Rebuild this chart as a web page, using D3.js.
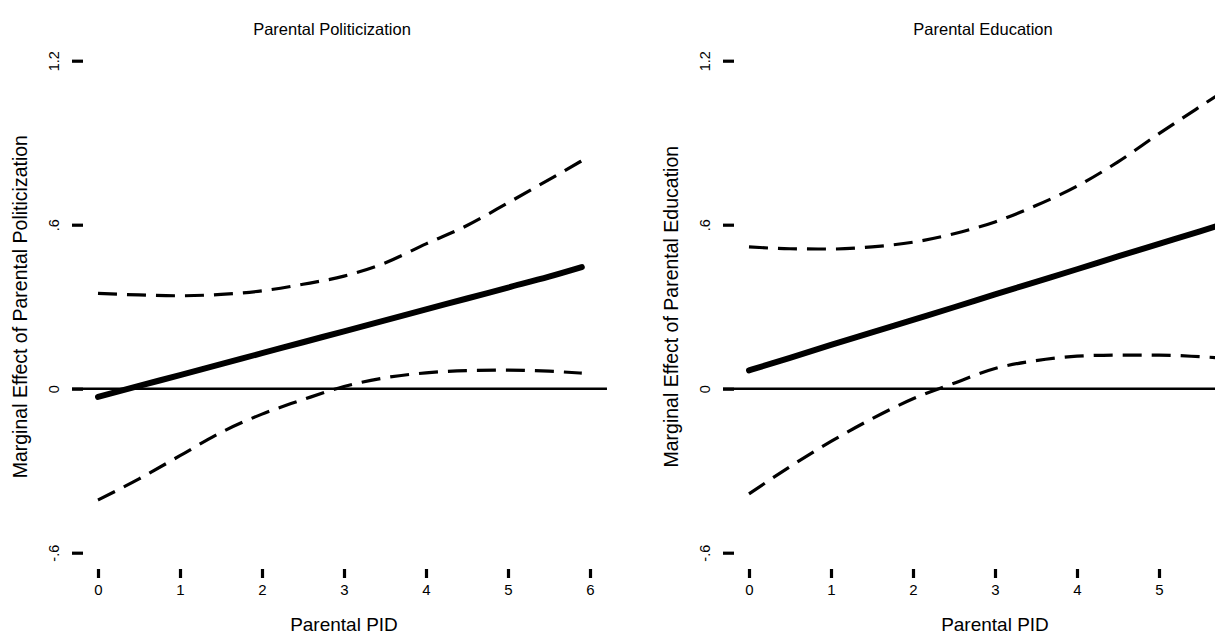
<!DOCTYPE html>
<html>
<head>
<meta charset="utf-8">
<script src="https://cdn.jsdelivr.net/npm/d3@7"></script>
<style>
  html, body { margin: 0; padding: 0; background: #fff; }
  svg { display: block; font-family: "Liberation Sans", Arial, Helvetica, sans-serif; }
</style>
</head>
<body>
<svg id="chart" width="1215" height="635"></svg>
<script>
// ---- data ----
const pid = [0, 0.5, 1, 1.5, 2, 2.5, 3, 3.5, 4, 4.5, 5, 5.5, 5.9];
const xTicks = [0, 1, 2, 3, 4, 5, 6];
const yTicks = [-0.6, 0, 0.6, 1.2];
const yTickLabels = ["-.6", "0", ".6", "1.2"];

const politEffect = [-0.03, 0.01, 0.05, 0.09, 0.13, 0.17, 0.21, 0.25, 0.29, 0.33, 0.37, 0.41, 0.445];
const politUpper  = [0.349, 0.343, 0.340, 0.345, 0.358, 0.382, 0.412, 0.46, 0.53, 0.597, 0.68, 0.765, 0.834];
const politLower  = [-0.407, -0.33, -0.245, -0.16, -0.093, -0.04, 0.008, 0.04, 0.058, 0.066, 0.068, 0.064, 0.057];

const eduEffect = [0.067, 0.113, 0.16, 0.206, 0.252, 0.298, 0.345, 0.391, 0.437, 0.484, 0.53, 0.576, 0.613];
const eduUpper  = [0.519, 0.512, 0.511, 0.519, 0.536, 0.567, 0.61, 0.67, 0.741, 0.83, 0.933, 1.032, 1.11];
const eduLower  = [-0.385, -0.285, -0.193, -0.11, -0.037, 0.02, 0.074, 0.103, 0.119, 0.123, 0.123, 0.117, 0.11];

const panels = [
  { title: "Parental Politicization", ytitle: "Marginal Effect of Parental Politicization",
    effect: politEffect, upper: politUpper, lower: politLower, offset: 0 },
  { title: "Parental Education", ytitle: "Marginal Effect of Parental Education",
    effect: eduEffect, upper: eduUpper, lower: eduLower, offset: 651 }
];

// ---- drawing ----
const W = 1215;
const svg = d3.select("#chart");

panels.forEach(p => {
  const g = svg.append("g").attr("transform", `translate(${p.offset},0)`);
  const x = d3.scaleLinear().domain([0, 6]).range([98, 590]);
  const y = d3.scaleLinear().domain([-0.6, 1.2]).range([552.7, 60.7]);

  // zero reference line spanning plot region
  g.append("line")
    .attr("x1", x(-0.317)).attr("x2", x(6.207))
    .attr("y1", y(0)).attr("y2", y(0))
    .attr("stroke", "#000").attr("stroke-width", 2.6);

  // y axis (ticks only, no domain line)
  const yAxis = d3.axisLeft(y).tickValues(yTicks).tickSize(11)
    .tickFormat((d, i) => yTickLabels[i]);
  const ya = g.append("g").attr("transform", `translate(${x(0) - 15},0)`).call(yAxis);
  ya.attr("font-size", null).attr("font-family", null);
  ya.select(".domain").remove();
  ya.selectAll(".tick line").attr("stroke", "#000").attr("stroke-width", 3.2);
  ya.selectAll(".tick text")
    .attr("x", 0).attr("y", 0).attr("dy", null)
    .style("font-size", "14.5px").attr("fill", "#000")
    .attr("text-anchor", "middle")
    .attr("transform", "translate(-24,0) rotate(-90)");

  // x axis (only ticks that fall inside the picture)
  const visTicks = xTicks.filter(t => x(t) + p.offset < W - 4);
  const xAxis = d3.axisBottom(x).tickValues(visTicks).tickSize(9).tickFormat(d3.format("d"));
  const xa = g.append("g").attr("transform", `translate(0,569)`).call(xAxis);
  xa.attr("font-size", null).attr("font-family", null);
  xa.select(".domain").remove();
  xa.selectAll(".tick line").attr("stroke", "#000").attr("stroke-width", 3.2);
  xa.selectAll(".tick text").style("font-size", "15px").attr("fill", "#000")
    .attr("y", 26).attr("dy", null);

  const pts = arr => pid.map((v, i) => [v, arr[i]]);
  const line = d3.line().x(d => x(d[0])).y(d => y(d[1])).curve(d3.curveMonotoneX);

  g.append("path").attr("d", line(pts(p.upper)))
    .attr("fill", "none").attr("stroke", "#000").attr("stroke-width", 3.2)
    .attr("stroke-dasharray", "19,10");
  g.append("path").attr("d", line(pts(p.lower)))
    .attr("fill", "none").attr("stroke", "#000").attr("stroke-width", 3.2)
    .attr("stroke-dasharray", "19,10");
  g.append("path").attr("d", line(pts(p.effect)))
    .attr("fill", "none").attr("stroke", "#000").attr("stroke-width", 6)
    .attr("stroke-linecap", "round");

  // titles
  g.append("text").attr("x", 332).attr("y", 35).attr("text-anchor", "middle")
    .style("font-size", "16.5px").attr("fill", "#000").text(p.title);
  g.append("text").attr("x", 344).attr("y", 631).attr("text-anchor", "middle")
    .style("font-size", "19px").attr("fill", "#000").text("Parental PID");
  g.append("text").attr("transform", `translate(27,${y(0.3)}) rotate(-90)`)
    .attr("text-anchor", "middle").style("font-size", "19.5px").attr("fill", "#000")
    .text(p.ytitle);
});
</script>
</body>
</html>
